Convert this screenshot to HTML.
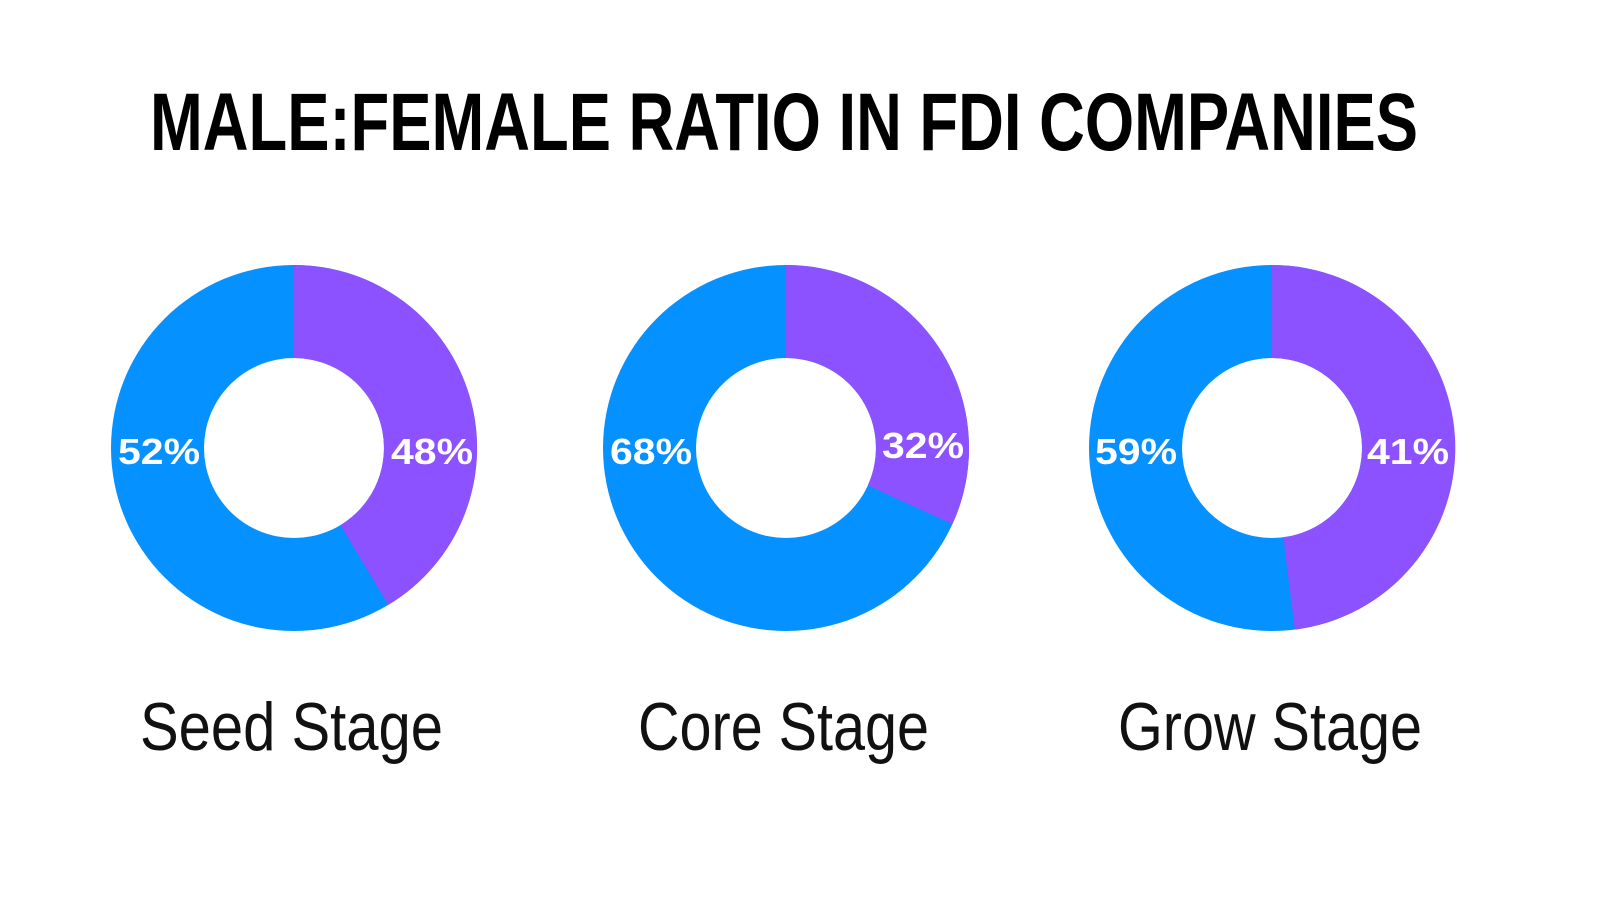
<!DOCTYPE html>
<html><head><meta charset="utf-8"><style>html,body{margin:0;padding:0;background:#fff}svg{display:block}</style></head>
<body>
<svg width="1600" height="900" viewBox="0 0 1600 900" xmlns="http://www.w3.org/2000/svg">
<rect width="1600" height="900" fill="#fff"/>
<text x="150" y="150" font-family="Liberation Sans, sans-serif" font-weight="bold" font-size="82" textLength="1268" lengthAdjust="spacingAndGlyphs" fill="#000">MALE:FEMALE RATIO IN FDI COMPANIES</text>
<g fill-rule="evenodd">
<path d="M294,265 a183,183 0 1,1 0,366 a183,183 0 1,1 0,-366 Z M294,358 a90,90 0 1,0 0,180 a90,90 0 1,0 0,-180 Z" fill="#0591FF"/>
<path d="M294,265 A183,183 0 0,1 388.3,604.9 L340.4,525.1 A90,90 0 0,0 294,358 Z" fill="#8C52FF"/>
<path d="M786,265 a183,183 0 1,1 0,366 a183,183 0 1,1 0,-366 Z M786,358 a90,90 0 1,0 0,180 a90,90 0 1,0 0,-180 Z" fill="#0591FF"/>
<path d="M786,265 A183,183 0 0,1 952.4,524.2 L867.8,485.4 A90,90 0 0,0 786,358 Z" fill="#8C52FF"/>
<path d="M1272,265 a183,183 0 1,1 0,366 a183,183 0 1,1 0,-366 Z M1272,358 a90,90 0 1,0 0,180 a90,90 0 1,0 0,-180 Z" fill="#0591FF"/>
<path d="M1272,265 A183,183 0 0,1 1294.9,629.6 L1283.3,537.3 A90,90 0 0,0 1272,358 Z" fill="#8C52FF"/>
</g>
<g font-family="Liberation Sans, sans-serif" font-weight="bold" font-size="36" fill="#fff">
<text x="118" y="464" textLength="82" lengthAdjust="spacingAndGlyphs">52%</text>
<text x="391" y="464" textLength="82" lengthAdjust="spacingAndGlyphs">48%</text>
<text x="610" y="464" textLength="82" lengthAdjust="spacingAndGlyphs">68%</text>
<text x="882" y="458" textLength="82" lengthAdjust="spacingAndGlyphs">32%</text>
<text x="1095" y="464" textLength="82" lengthAdjust="spacingAndGlyphs">59%</text>
<text x="1367" y="464" textLength="82" lengthAdjust="spacingAndGlyphs">41%</text>
</g>
<g font-family="Liberation Sans, sans-serif" font-size="68" fill="#111">
<text x="140" y="750" textLength="303" lengthAdjust="spacingAndGlyphs">Seed Stage</text>
<text x="638" y="750" textLength="291" lengthAdjust="spacingAndGlyphs">Core Stage</text>
<text x="1118" y="750" textLength="304" lengthAdjust="spacingAndGlyphs">Grow Stage</text>
</g>
</svg>
</body></html>
